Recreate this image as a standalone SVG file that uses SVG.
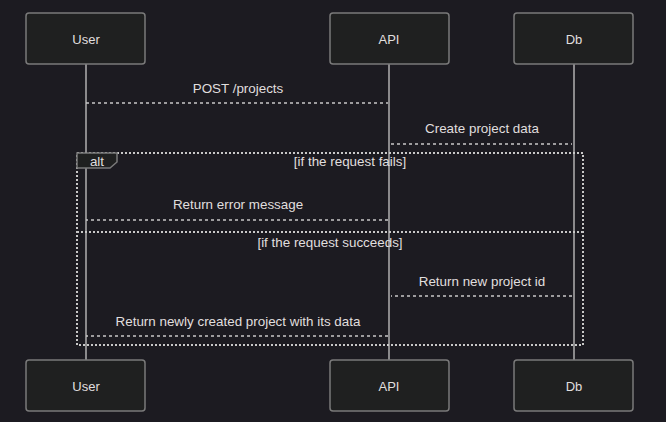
<svg xmlns="http://www.w3.org/2000/svg" width="666" height="422" viewBox="0 0 666 422">
<style>
.actor{fill:#1f2020;stroke:#7a7a7a;stroke-width:1.5}
.atext{font-family:"Liberation Sans",Arial,sans-serif;font-size:13px;fill:#e0dfdf;text-anchor:middle;dominant-baseline:central}
.life{stroke:#b0b0b0;stroke-width:1.5}
.msg{stroke:#c8c8c8;stroke-width:1.5;stroke-dasharray:3,3;fill:none}
.mtext{font-family:"Liberation Sans",Arial,sans-serif;font-size:13.4px;fill:#e0dfdf;text-anchor:middle}
.loop{stroke:#c8c8c8;stroke-width:2;stroke-dasharray:2,2;fill:none}
.lbox{fill:#1f2020;stroke:#7a7a7a;stroke-width:1.5}
</style>
<rect width="666" height="422" fill="#1c1b21"/>
<g id="lifelines">
<line class="life" x1="86" y1="64" x2="86" y2="360"/>
<line class="life" x1="389" y1="64" x2="389" y2="360"/>
<line class="life" x1="574" y1="64" x2="574" y2="360"/>
</g>
<g id="actor-user-top"><rect class="actor" x="26" y="13" width="119" height="51" rx="3"/><text class="atext" x="86" y="39">User</text></g>
<g id="actor-api-top"><rect class="actor" x="330" y="13" width="119" height="51" rx="3"/><text class="atext" x="389" y="39">API</text></g>
<g id="actor-db-top"><rect class="actor" x="514" y="13" width="119" height="51" rx="3"/><text class="atext" x="574" y="39">Db</text></g>
<g id="actor-user-bottom"><rect class="actor" x="26" y="360" width="119" height="51" rx="3"/><text class="atext" x="86" y="386">User</text></g>
<g id="actor-api-bottom"><rect class="actor" x="330" y="360" width="119" height="51" rx="3"/><text class="atext" x="389" y="386">API</text></g>
<g id="actor-db-bottom"><rect class="actor" x="514" y="360" width="119" height="51" rx="3"/><text class="atext" x="574" y="386">Db</text></g>
<g id="alt-block">
<rect class="loop" x="77" y="153" width="506" height="192"/>
<line class="loop" x1="77" y1="232" x2="583" y2="232"/>
<polygon class="lbox" points="77,153 117,153 117,162 110,168 77,168"/>
<text class="mtext" x="97" y="166">alt</text>
<text class="mtext" x="350" y="166">[if the request fails]</text>
<text class="mtext" x="330" y="247">[if the request succeeds]</text>
</g>
<g id="connectors">
<line class="msg" x1="86" y1="103" x2="388" y2="103"/>
<line class="msg" x1="391" y1="144" x2="572" y2="144"/>
<line class="msg" x1="388" y1="220" x2="86" y2="220"/>
<line class="msg" x1="572" y1="296" x2="391" y2="296"/>
<line class="msg" x1="388" y1="336" x2="86" y2="336"/>
</g>
<g id="labels">
<text class="mtext" x="238" y="93">POST /projects</text>
<text class="mtext" x="482" y="133">Create project data</text>
<text class="mtext" x="238" y="209">Return error message</text>
<text class="mtext" x="482" y="286">Return new project id</text>
<text class="mtext" x="238" y="326">Return newly created project with its data</text>
</g>
</svg>
